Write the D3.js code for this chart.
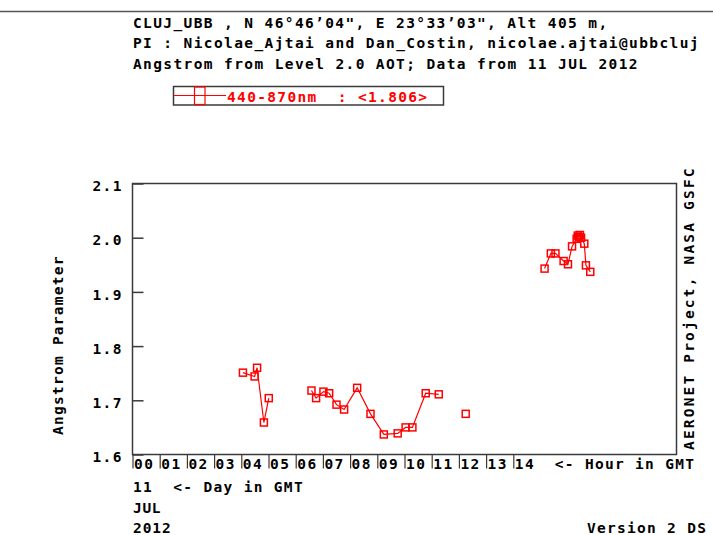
<!DOCTYPE html>
<html>
<head>
<meta charset="utf-8">
<script src="https://cdn.jsdelivr.net/npm/d3@7"></script>
<style>
  html, body { margin: 0; padding: 0; background: #fff; overflow: hidden; }
  svg { display: block; }
  text { font-family: "DejaVu Sans Mono", "Liberation Mono", monospace; font-weight: bold; font-size: 14.5px; letter-spacing: 1.45px; fill: #000; white-space: pre; }
</style>
</head>
<body>
<svg id="chart" width="713" height="535"></svg>
<script>
// Angstrom parameter (440-870nm), CLUJ_UBB, 11 JUL 2012, Level 2.0
const hours = [4.06, 4.49, 4.58, 4.83, 5.01,
  6.58, 6.75, 7.02, 7.23, 7.50, 7.78, 8.26, 8.75, 9.24, 9.75, 10.04, 10.29, 10.78, 11.26,
  12.25,
  15.15, 15.38, 15.55, 15.85, 16.01, 16.16, 16.33, 16.37, 16.41, 16.45, 16.49, 16.61, 16.67, 16.83];
const angstrom = [1.751, 1.744, 1.760, 1.659, 1.704,
  1.718, 1.704, 1.716, 1.713, 1.692, 1.683, 1.723, 1.675, 1.637, 1.639, 1.650, 1.650, 1.713, 1.711,
  1.675,
  1.943, 1.971, 1.971, 1.957, 1.951, 1.984, 1.998, 2.004, 2.001, 2.005, 2.000, 1.989, 1.949, 1.937];

const yTicks = [1.6, 1.7, 1.8, 1.9, 2.0, 2.1];
const yTickLabels = ["1.6", "1.7", "1.8", "1.9", "2.0", "2.1"];
const hourTicks = d3.range(0, 15);
const hourTickLabels = ["00","01","02","03","04","05","06","07","08","09","10","11","12","13","14"];

const titleLines = [
  "CLUJ_UBB , N 46°46’04\", E 23°33’03\", Alt 405 m,",
  "PI : Nicolae_Ajtai and Dan_Costin, nicolae.ajtai@ubbcluj",
  "Angstrom from Level 2.0 AOT; Data from 11 JUL 2012"
];
const legendLabel = "440-870nm  : <1.806>";
const dateLines = ["11  <- Day in GMT", "JUL", "2012"];

// time gaps longer than this break the connecting line
const maxGapHours = 0.75;

const svg = d3.select("#chart");
const red = "#ff0000";
const frameColor = "#3a3a3a";
const advance = 10.15; // character cell width of the monospaced lettering

// stretch a monospaced string to an exact character grid
function grid(sel) {
  sel.each(function () {
    const n = this.textContent.length;
    if (n > 1) d3.select(this).attr("textLength", n * advance - 1.45).attr("lengthAdjust", "spacing");
  });
}

const x = d3.scaleLinear().domain([0, 20]).range([132.5, 676.5]);
const y = d3.scaleLinear().domain([1.6, 2.1]).range([454.5, 183.5]);

// header rule and title block
svg.append("line").attr("x1", 0).attr("x2", 713).attr("y1", 11.5).attr("y2", 11.5)
  .attr("stroke", "#555").attr("stroke-width", 1.5);
svg.selectAll("text.title").data(titleLines).join("text")
  .attr("class", "title").attr("x", 133).attr("y", (d, i) => 27.5 + i * 20.5).text(d => d)
  .call(grid);

// legend
const lg = svg.append("g");
lg.append("rect").attr("x", 173.5).attr("y", 86.5).attr("width", 270).attr("height", 18.5)
  .attr("fill", "none").attr("stroke", frameColor).attr("stroke-width", 1.5);
lg.append("line").attr("x1", 174).attr("x2", 226).attr("y1", 95.5).attr("y2", 95.5)
  .attr("stroke", red).attr("stroke-width", 1.2);
lg.append("rect").attr("x", 194.5).attr("y", 87).attr("width", 10.5).attr("height", 17.5)
  .attr("fill", "none").attr("stroke", red).attr("stroke-width", 1.2);
lg.append("text").attr("x", 227).attr("y", 101.5).style("fill", red).text(legendLabel).call(grid);

// y axis ticks and labels
const yAxis = d3.axisLeft(y).tickValues(yTicks)
  .tickFormat((d, i) => yTickLabels[i]).tickSize(-11).tickPadding(11);
const yg = svg.append("g").attr("transform", "translate(132.5,0)").call(yAxis);
yg.select(".domain").remove();
yg.selectAll(".tick line").attr("stroke", frameColor).attr("stroke-width", 1.5);
yg.selectAll(".tick text").attr("font-family", null).attr("font-size", null)
  .attr("dy", "0.5em").attr("dx", "1.45px");

// hour axis: tick bars hang below the frame with the label beside each bar
const xAxis = d3.axisBottom(x).tickValues(hourTicks)
  .tickFormat((d, i) => hourTickLabels[i]).tickSize(14).tickPadding(0);
const xg = svg.append("g").attr("transform", "translate(0,454.5)").call(xAxis);
xg.select(".domain").remove();
xg.selectAll(".tick line").attr("stroke", frameColor).attr("stroke-width", 1.2);
xg.selectAll(".tick text").attr("font-family", null).attr("font-size", null)
  .attr("text-anchor", "start").attr("x", 1).attr("y", 14).attr("dy", 0);
xg.append("text").attr("x", x(14) + 41.5).attr("y", 14).attr("text-anchor", "start")
  .text("<- Hour in GMT").call(grid);

// plot frame
svg.append("rect").attr("x", 132.5).attr("y", 183.5).attr("width", 544).attr("height", 271)
  .attr("fill", "none").attr("stroke", frameColor).attr("stroke-width", 1.5);

// date block and version stamp
svg.selectAll("text.date").data(dateLines).join("text")
  .attr("class", "date").attr("x", 133).attr("y", (d, i) => 492 + i * 20.5).text(d => d)
  .call(grid);
svg.append("text").attr("x", 587).attr("y", 533).text("Version 2 DS").call(grid);

// axis titles
svg.append("text").attr("transform", "translate(63,435) rotate(-90)")
  .attr("textLength", 180).attr("lengthAdjust", "spacing").text("Angstrom Parameter");
svg.append("text").attr("transform", "translate(694,450) rotate(-90)")
  .attr("textLength", 283).attr("lengthAdjust", "spacing").text("AERONET Project, NASA GSFC");

// data: split into runs where consecutive observations are close in time
const pts = hours.map((h, i) => ({ h, v: angstrom[i] }));
const runs = [];
pts.forEach((p, i) => {
  if (i === 0 || p.h - pts[i - 1].h > maxGapHours) runs.push([]);
  runs[runs.length - 1].push(p);
});
const line = d3.line().x(d => x(d.h)).y(d => y(d.v));
svg.append("g").selectAll("path").data(runs.filter(r => r.length > 1)).join("path")
  .attr("d", line).attr("fill", "none").attr("stroke", red).attr("stroke-width", 1.2);
svg.append("g").selectAll("rect").data(pts).join("rect")
  .attr("x", d => x(d.h) - 3.5).attr("y", d => y(d.v) - 3.5)
  .attr("width", 7).attr("height", 7)
  .attr("fill", "none").attr("stroke", red).attr("stroke-width", 1.5);
</script>
</body>
</html>
